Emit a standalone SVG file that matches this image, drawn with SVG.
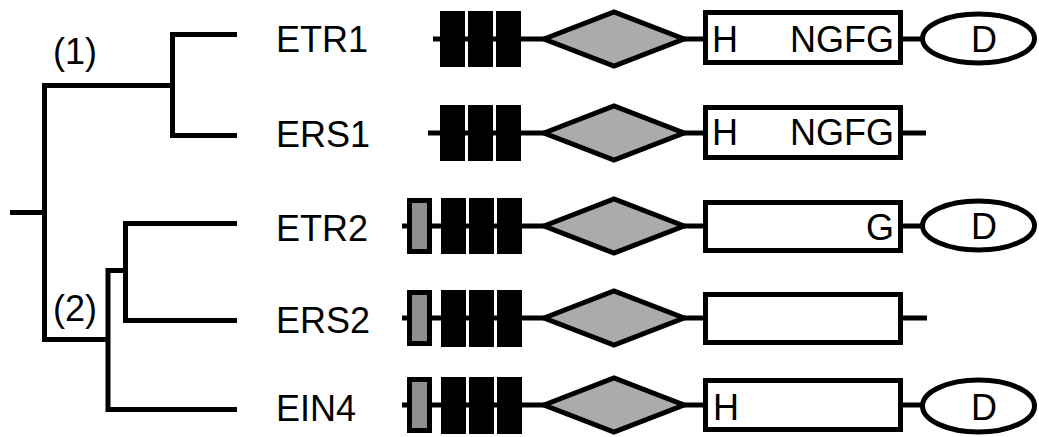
<svg xmlns="http://www.w3.org/2000/svg" width="1039" height="437" viewBox="0 0 1039 437">
<style>
.t{font-family:"Liberation Sans",Arial,sans-serif;font-size:36px;fill:#000}
.ln{stroke:#000;stroke-width:5;fill:none}
.blk{fill:#000}
.sm{fill:#8f8f8f;stroke:#000;stroke-width:5}
.dia{fill:#ababab;stroke:#000;stroke-width:5;stroke-linejoin:miter}
.box{fill:#fff;stroke:#000;stroke-width:5}
.ell{fill:#fff;stroke:#000;stroke-width:5}
</style>
<rect width="1039" height="437" fill="#fff"/>
<g id="tree">
<path class="ln" d="M10 212.5H44.5M44.5 83V342M44.5 85.5H172.5M172.5 32V138M172.5 34.5H237M172.5 135.5H237M44.5 339.5H108M108 268V412M108 270.5H125.5M125.5 221V323M125.5 223.5H237M125.5 320.5H237M108 409.5H237"/>
<text class="t" x="53" y="64">(1)</text>
<text class="t" x="53" y="321">(2)</text>
</g>
<g id="ETR1">
<text class="t" x="276" y="52">ETR1</text>
<path class="ln" d="M433 39H706M900 39H923"/>
<rect class="blk" x="440" y="11" width="25" height="56"/>
<rect class="blk" x="468" y="11" width="25" height="56"/>
<rect class="blk" x="496" y="11" width="25" height="56"/>
<polygon class="dia" points="544,39 614,12 684,39 614,66"/>
<rect class="box" x="705.5" y="12.5" width="195" height="50"/>
<text class="t" x="712" y="52">H</text>
<text class="t" x="894" y="52" text-anchor="end">NGFG</text>
<ellipse class="ell" cx="978.5" cy="38.5" rx="56" ry="24.5"/>
<text class="t" x="984" y="52" text-anchor="middle">D</text>
</g>
<g id="ERS1">
<text class="t" x="276" y="147">ERS1</text>
<path class="ln" d="M428 133H706M900 133H926"/>
<rect class="blk" x="440" y="105" width="25" height="56"/>
<rect class="blk" x="468" y="105" width="25" height="56"/>
<rect class="blk" x="496" y="105" width="25" height="56"/>
<polygon class="dia" points="544,133 614,106 684,133 614,160"/>
<rect class="box" x="705.5" y="107.5" width="195" height="50"/>
<text class="t" x="712" y="145">H</text>
<text class="t" x="894" y="145" text-anchor="end">NGFG</text>
</g>
<g id="ETR2">
<text class="t" x="276" y="241">ETR2</text>
<path class="ln" d="M402 226H706M900 226H923"/>
<rect class="sm" x="409.5" y="200.5" width="20" height="51"/>
<rect class="blk" x="441" y="198" width="25" height="56"/>
<rect class="blk" x="469" y="198" width="25" height="56"/>
<rect class="blk" x="497" y="198" width="25" height="56"/>
<polygon class="dia" points="544,226 614,199 684,226 614,253"/>
<rect class="box" x="705.5" y="202.5" width="195" height="48"/>
<text class="t" x="894" y="240" text-anchor="end">G</text>
<ellipse class="ell" cx="978.5" cy="225.5" rx="56" ry="24.5"/>
<text class="t" x="984" y="239" text-anchor="middle">D</text>
</g>
<g id="ERS2">
<text class="t" x="276" y="333">ERS2</text>
<path class="ln" d="M402 318H706M900 318H927"/>
<rect class="sm" x="409.5" y="292.5" width="20" height="51"/>
<rect class="blk" x="441" y="290" width="25" height="57"/>
<rect class="blk" x="469" y="290" width="25" height="57"/>
<rect class="blk" x="497" y="290" width="25" height="57"/>
<polygon class="dia" points="544,318 614,291 684,318 614,345"/>
<rect class="box" x="705.5" y="294.5" width="195" height="48"/>
</g>
<g id="EIN4">
<text class="t" x="276" y="421">EIN4</text>
<path class="ln" d="M402 405H706M900 405H923"/>
<rect class="sm" x="409.5" y="379.5" width="20" height="51"/>
<rect class="blk" x="441" y="377" width="25" height="57"/>
<rect class="blk" x="469" y="377" width="25" height="57"/>
<rect class="blk" x="497" y="377" width="25" height="57"/>
<polygon class="dia" points="544,405 614,378 684,405 614,432"/>
<rect class="box" x="705.5" y="380.5" width="195" height="49"/>
<text class="t" x="713" y="420">H</text>
<ellipse class="ell" cx="978.5" cy="406" rx="56" ry="26"/>
<text class="t" x="984" y="420" text-anchor="middle">D</text>
</g>
</svg>
